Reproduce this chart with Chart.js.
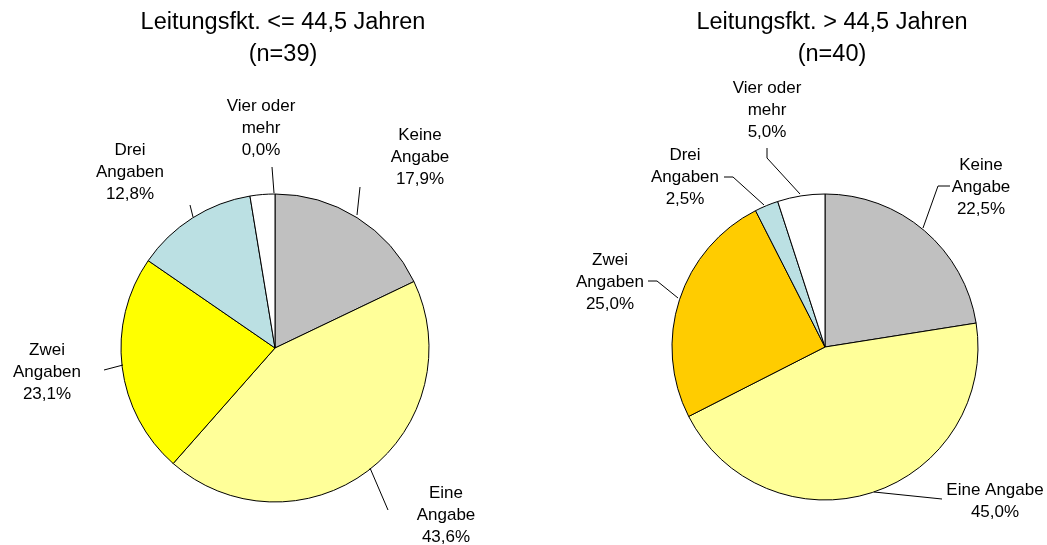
<!DOCTYPE html>
<html lang="de">
<head>
<meta charset="UTF-8">
<title>Leitungsfunktion nach Alter</title>
<script src="https://cdn.jsdelivr.net/npm/chart.js"></script>
<style>
    body { margin: 0; background: #fff; }
    #wrap { position: relative; width: 1047px; height: 545px; }
    canvas { position: absolute; top: 0; }
    #leftChart { left: 0; }
    #rightChart { left: 550px; }
</style>
</head>
<body>
<div id="wrap">
    <canvas id="leftChart" width="550" height="545"></canvas>
    <canvas id="rightChart" width="497" height="545"></canvas>
</div>
<script>
// data
var leftTitle = ['Leitungsfkt. <= 44,5 Jahren', '(n=39)'];
var rightTitle = ['Leitungsfkt. > 44,5 Jahren', '(n=40)'];

var leftCategories = ['Keine Angabe', 'Eine Angabe', 'Zwei Angaben', 'Drei Angaben', '', 'Vier oder mehr'];
var leftValues = [17.9, 43.6, 23.1, 12.8, 2.6, 0.0];
var leftColors = ['#c0c0c0', '#ffff99', '#ffff00', '#bbe0e3', '#ffffff', '#ffffff'];

var rightCategories = ['Keine Angabe', 'Eine Angabe', 'Zwei Angaben', 'Drei Angaben', 'Vier oder mehr'];
var rightValues = [22.5, 45.0, 25.0, 2.5, 5.0];
var rightColors = ['#c0c0c0', '#ffff99', '#ffcc00', '#bbe0e3', '#ffffff'];

// label layout (page coordinates): index into data, text lines, centre, leader line
var leftLabels = [
    { i: 0, lines: ['Keine', 'Angabe'], x: 420, y: 135, leader: [[360, 187], [357, 215]] },
    { i: 1, lines: ['Eine', 'Angabe'], x: 446, y: 493, leader: [[370, 468], [388, 510]] },
    { i: 2, lines: ['Zwei', 'Angaben'], x: 47, y: 350, leader: [[104, 370], [123, 365]] },
    { i: 3, lines: ['Drei', 'Angaben'], x: 130, y: 150, leader: [[190, 205], [193, 217]] },
    { i: 5, lines: ['Vier oder', 'mehr'], x: 261, y: 106, leader: [[272, 167], [274, 193]] }
];
var rightLabels = [
    { i: 0, lines: ['Keine', 'Angabe'], x: 981, y: 165, leader: [[950, 186], [938, 186], [923, 228]] },
    { i: 1, lines: ['Eine Angabe'], x: 995, y: 490, leader: [[874, 492], [942, 499]] },
    { i: 2, lines: ['Zwei', 'Angaben'], x: 610, y: 260, leader: [[648, 281], [657, 281], [678, 298]] },
    { i: 3, lines: ['Drei', 'Angaben'], x: 685, y: 155, leader: [[724, 177], [733, 177], [764, 205]] },
    { i: 4, lines: ['Vier oder', 'mehr'], x: 767, y: 88, leader: [[767, 148], [767, 158], [800, 194]] }
];

var FONT = '"Liberation Sans", Arial, Helvetica, sans-serif';

function pct(v) {
    return v.toFixed(1).replace('.', ',') + '%';
}

// plugin that draws title, labels and leader lines
function annotations(offsetX, title, titleX, labels, values) {
    return {
        id: 'annotations',
        afterDraw: function (chart) {
            var ctx = chart.ctx;
            ctx.save();
            ctx.fillStyle = '#000';
            ctx.textAlign = 'center';
            ctx.textBaseline = 'middle';
            ctx.font = '23.5px ' + FONT;
            ctx.fillText(title[0], titleX - offsetX, 23);
            ctx.fillText(title[1], titleX - offsetX, 55);

            ctx.font = '17px ' + FONT;
            ctx.strokeStyle = '#000';
            ctx.lineWidth = 1;
            labels.forEach(function (l) {
                var lines = l.lines.concat([pct(values[l.i])]);
                lines.forEach(function (t, k) {
                    ctx.fillText(t, l.x - offsetX, l.y + k * 22);
                });
                ctx.beginPath();
                l.leader.forEach(function (p, k) {
                    if (k === 0) ctx.moveTo(p[0] - offsetX, p[1]);
                    else ctx.lineTo(p[0] - offsetX, p[1]);
                });
                ctx.stroke();
            });
            ctx.restore();
        }
    };
}

function createPie(canvasId, categories, values, colors, radius, padding, plugin) {
    var ctx = document.getElementById(canvasId).getContext('2d');
    return new Chart(ctx, {
        type: 'pie',
        data: {
            labels: categories,
            datasets: [{
                data: values,
                backgroundColor: colors,
                borderColor: '#000',
                borderWidth: 1,
                radius: radius
            }]
        },
        options: {
            responsive: false,
            animation: false,
            layout: { padding: padding },
            plugins: {
                legend: { display: false },
                tooltip: { enabled: false }
            }
        },
        plugins: [plugin]
    });
}

createPie('leftChart', leftCategories, leftValues, leftColors, 154,
    { left: 121, right: 121, top: 194, bottom: 43 },
    annotations(0, leftTitle, 283, leftLabels, leftValues));

createPie('rightChart', rightCategories, rightValues, rightColors, 153,
    { left: 122, right: 69, top: 194, bottom: 45 },
    annotations(550, rightTitle, 832, rightLabels, rightValues));
</script>
</body>
</html>
